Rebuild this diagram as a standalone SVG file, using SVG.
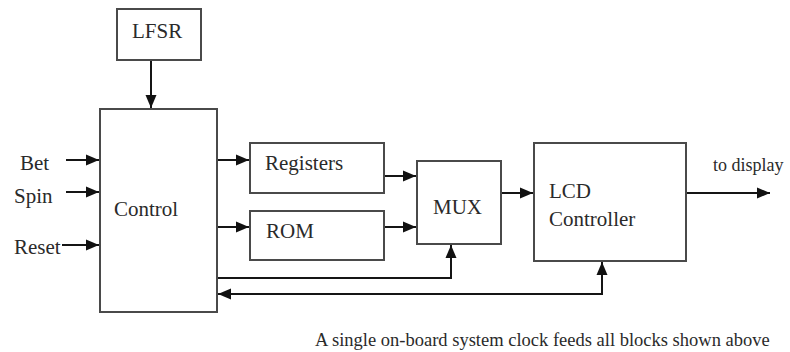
<svg xmlns="http://www.w3.org/2000/svg" width="790" height="352" viewBox="0 0 790 352">
  <style>
    .box { fill: #ffffff; stroke: #4a4a4a; stroke-width: 2; }
    .wire { fill: none; stroke: #151515; stroke-width: 2; }
  </style>
  <defs>
    <marker id="arrow" markerUnits="userSpaceOnUse" markerWidth="14" markerHeight="14" refX="13" refY="7" orient="auto-start-reverse">
      <path d="M0,1.5 L13,7 L0,12.5 Z" fill="#111111"/>
    </marker>
  </defs>
  <rect width="790" height="352" fill="#ffffff"/>

  <!-- connectors -->
  <g id="connectors">
    <line class="wire" x1="151" y1="60" x2="151" y2="108" marker-end="url(#arrow)"/>
    <line class="wire" x1="66" y1="160" x2="99" y2="160" marker-end="url(#arrow)"/>
    <line class="wire" x1="66" y1="192" x2="99" y2="192" marker-end="url(#arrow)"/>
    <line class="wire" x1="62" y1="245" x2="99" y2="245" marker-end="url(#arrow)"/>
    <line class="wire" x1="217" y1="160" x2="249" y2="160" marker-end="url(#arrow)"/>
    <line class="wire" x1="217" y1="227" x2="249" y2="227" marker-end="url(#arrow)"/>
    <line class="wire" x1="384" y1="176" x2="416" y2="176" marker-end="url(#arrow)"/>
    <line class="wire" x1="384" y1="227" x2="416" y2="227" marker-end="url(#arrow)"/>
    <path class="wire" d="M217,278 H451 V245" marker-end="url(#arrow)"/>
    <path class="wire" d="M602,262 V294 H218" marker-start="url(#arrow)" marker-end="url(#arrow)"/>
    <line class="wire" x1="501" y1="193" x2="533" y2="193" marker-end="url(#arrow)"/>
    <line class="wire" x1="686" y1="193" x2="770" y2="193" marker-end="url(#arrow)"/>
  </g>

  <!-- blocks; labels use a Times-style face -->
  <g id="lfsr">
    <rect class="box" x="117" y="9" width="84" height="51"/>
    <text x="132" y="38" font-family="Liberation Serif" font-size="21" fill="#2a2a2a">LFSR</text>
  </g>
  <g id="control">
    <rect class="box" x="100" y="109" width="117" height="203"/>
    <text x="114" y="216" font-family="Liberation Serif" font-size="21" fill="#2a2a2a">Control</text>
  </g>
  <g id="registers">
    <rect class="box" x="250" y="143" width="134" height="50"/>
    <text x="265" y="170" font-family="Liberation Serif" font-size="21" fill="#2a2a2a">Registers</text>
  </g>
  <g id="rom">
    <rect class="box" x="250" y="211" width="134" height="49"/>
    <text x="266" y="238" font-family="Liberation Serif" font-size="21" fill="#2a2a2a">ROM</text>
  </g>
  <g id="mux">
    <rect class="box" x="417" y="161" width="84" height="83"/>
    <text x="433" y="214" font-family="Liberation Serif" font-size="21" fill="#2a2a2a">MUX</text>
  </g>
  <g id="lcd-controller">
    <rect class="box" x="534" y="143" width="152" height="118"/>
    <text x="549" y="198" font-family="Liberation Serif" font-size="21" fill="#2a2a2a">LCD</text>
    <text x="549" y="226" font-family="Liberation Serif" font-size="21" fill="#2a2a2a">Controller</text>
  </g>

  <!-- signal labels -->
  <g id="inputs">
    <text x="20" y="170" font-family="Liberation Serif" font-size="21" fill="#2a2a2a">Bet</text>
    <text x="14" y="203" font-family="Liberation Serif" font-size="21" fill="#2a2a2a">Spin</text>
    <text x="14" y="254" font-family="Liberation Serif" font-size="21" fill="#2a2a2a">Reset</text>
  </g>
  <g id="output">
    <text x="713" y="171" font-family="Liberation Serif" font-size="18" fill="#2a2a2a">to display</text>
  </g>
  <text x="315" y="346" font-family="Liberation Serif" font-size="18.5" fill="#2a2a2a">A single on-board system clock feeds all blocks shown above</text>
</svg>
